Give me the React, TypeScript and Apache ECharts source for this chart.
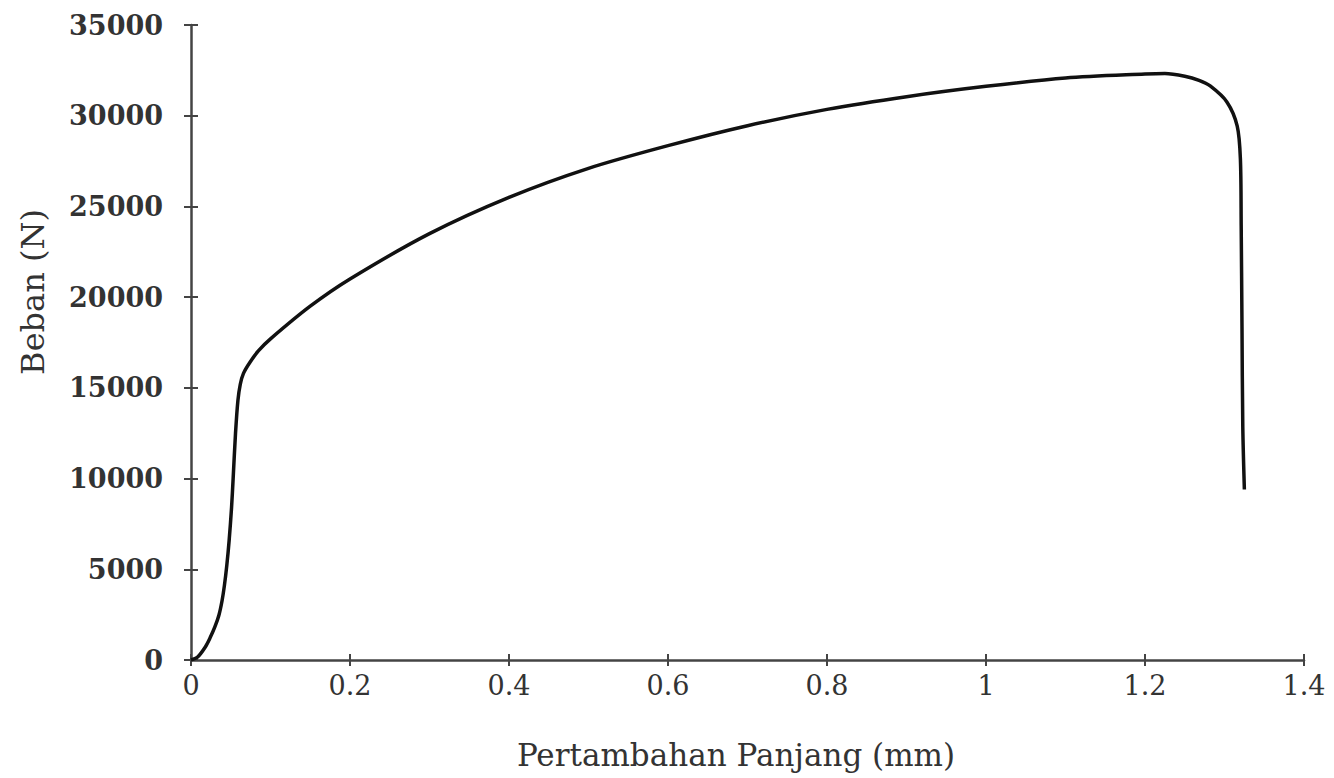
import React, { useEffect, useRef } from "react";
import * as echarts from "echarts";

const elongation = [
  0, 0.008, 0.018, 0.024, 0.03, 0.035, 0.039, 0.042, 0.045, 0.048, 0.051, 0.053,
  0.056, 0.059, 0.062, 0.066, 0.074, 0.085, 0.1, 0.15, 0.2, 0.3, 0.4, 0.5, 0.6,
  0.7, 0.8, 0.9, 1.0, 1.1, 1.2, 1.225, 1.25, 1.268, 1.282, 1.303, 1.316, 1.32,
  1.321, 1.322, 1.323, 1.325,
];
const load = [
  0, 150, 720, 1220, 1820, 2450, 3250, 4100, 5200, 6600, 8400, 10000,
  12500, 14300, 15200, 15800, 16400, 17050, 17700, 19500, 21000, 23500, 25500,
  27100, 28350, 29450, 30350, 31050, 31620, 32080, 32300, 32330, 32180, 31950,
  31640, 30760, 29430, 27610, 23910, 18390, 12870, 9400,
];

const xTitle = "Pertambahan Panjang (mm)";
const yTitle = "Beban (N)";

const FONT = "DejaVu Serif";
const AXIS_COLOR = "#444";

export default function App() {
  const ref = useRef<HTMLDivElement>(null);
  useEffect(() => {
    if (!ref.current) return;
    const chart = echarts.init(ref.current, null, { renderer: "svg" });
    const data = elongation.map((x, i) => [x, load[i]]);
    const baseX = {
      type: "value",
      min: 0,
      max: 1.4,
      interval: 0.2,
      splitLine: { show: false },
    };
    const baseY = {
      type: "value",
      min: 0,
      max: 35000,
      interval: 5000,
      splitLine: { show: false },
    };
    chart.setOption({
      animation: false,
      backgroundColor: "#fff",
      grid: { left: 191, right: 30, top: 25, bottom: 118, containLabel: false },
      xAxis: [
        {
          ...baseX,
          axisLine: { show: true, onZero: false, lineStyle: { color: AXIS_COLOR, width: 2.5 } },
          axisTick: { show: true, length: 6, lineStyle: { color: AXIS_COLOR, width: 2 } },
          axisLabel: {
            margin: 12,
            color: "#333",
            fontFamily: FONT,
            fontSize: 27,
            formatter: (v: number) => String(+v.toFixed(1)),
          },
        },
        {
          ...baseX,
          position: "bottom",
          axisLine: { show: false },
          axisTick: { show: true, inside: true, length: 6, lineStyle: { color: AXIS_COLOR, width: 2 } },
          axisLabel: { show: false },
        },
      ],
      yAxis: [
        {
          ...baseY,
          axisLine: { show: true, onZero: false, lineStyle: { color: AXIS_COLOR, width: 2.5 } },
          axisTick: { show: true, length: 7, lineStyle: { color: AXIS_COLOR, width: 2 } },
          axisLabel: {
            margin: 28,
            color: "#333",
            fontFamily: FONT,
            fontWeight: "bold",
            fontSize: 27,
            formatter: (v: number) => String(v),
          },
        },
        {
          ...baseY,
          position: "left",
          axisLine: { show: false },
          axisTick: { show: true, inside: true, length: 7, lineStyle: { color: AXIS_COLOR, width: 2 } },
          axisLabel: { show: false },
        },
      ],
      graphic: [
        {
          type: "text",
          x: 736,
          y: 755,
          style: {
            text: xTitle,
            fontFamily: FONT,
            fontSize: 31,
            fill: "#333",
            align: "center",
            verticalAlign: "middle",
          },
        },
        {
          type: "text",
          x: 33,
          y: 292,
          rotation: Math.PI / 2,
          style: {
            text: yTitle,
            fontFamily: FONT,
            fontSize: 32,
            fill: "#333",
            align: "center",
            verticalAlign: "middle",
          },
        },
      ],
      series: [
        {
          type: "line",
          data,
          xAxisIndex: 0,
          yAxisIndex: 0,
          showSymbol: false,
          smooth: 0.3,
          lineStyle: { color: "#111", width: 3.5 },
        },
      ],
    });
    return () => chart.dispose();
  }, []);
  return (
    <div
      ref={ref}
      style={{ position: "fixed", left: 0, top: 0, width: 1334, height: 778 }}
    />
  );
}
